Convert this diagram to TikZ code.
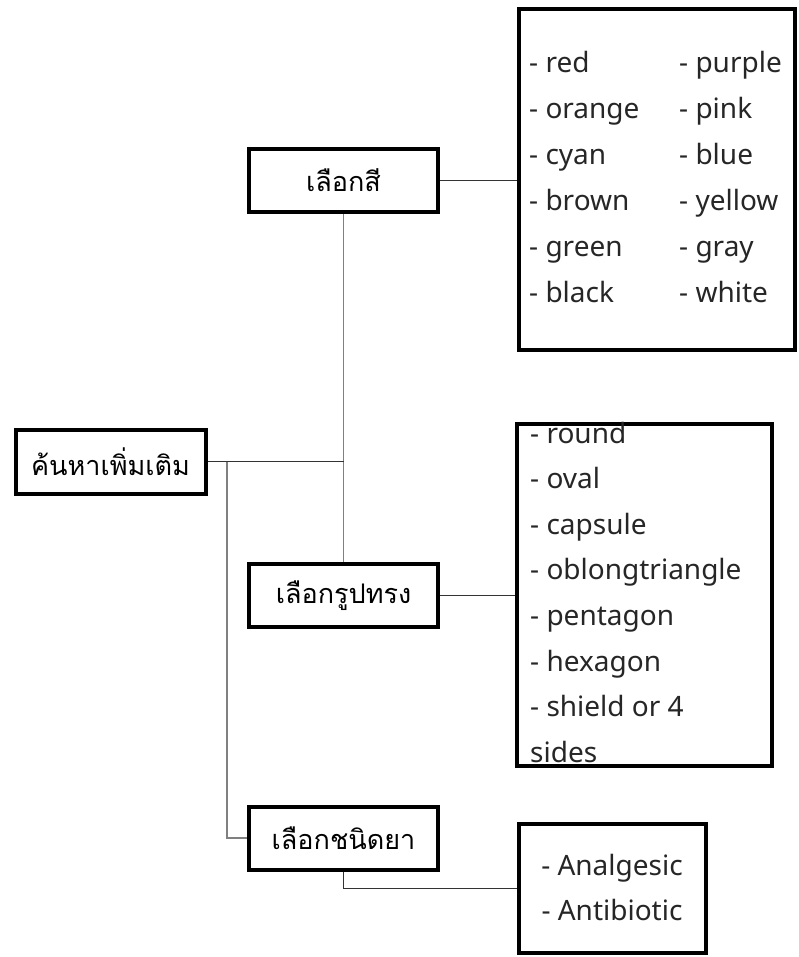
\documentclass[tikz,border=0pt]{standalone}
\usepackage{fontspec}
\setmainfont{Noto Sans}
\newfontfamily\thaifont[Script=Thai]{Loma}
\usetikzlibrary{positioning}

\begin{document}
\begin{tikzpicture}[
  x=1pt, y=-1pt,
  menu/.style={draw, line width=4pt, minimum width=189pt, minimum height=63pt, inner sep=0pt, font=\thaifont\fontsize{27}{31}\selectfont},
  listbox/.style={draw, line width=4pt, inner sep=0pt},
  item/.style={anchor=base west, inner sep=0pt, font=\fontsize{28}{32}\selectfont, text=black!85},
  link/.style={line width=1.4pt, black!80},
  trunk/.style={line width=1.6pt, gray}
]
\useasboundingbox (0,0) rectangle (798,957);

% main menu and the three choices
\node[menu, minimum width=190pt, minimum height=64pt] (search) at (110.5,461.5) {ค้นหาเพิ่มเติม};
\node[menu] (pickcolor) at (343.5,180.5) {เลือกสี};
\node[menu] (pickshape) at (343.5,595.5) {เลือกรูปทรง};
\node[menu] (pickdrug) at (343.5,838) {เลือกชนิดยา};

% option lists
\node[listbox, minimum width=276pt, minimum height=341pt] (colorlist) at (657,179.5) {};
\node[listbox, minimum width=255pt, minimum height=342pt] (shapelist) at (644.5,595) {};
\node[listbox, minimum width=187pt, minimum height=129pt] (druglist) at (612.5,888.5) {};

\foreach \c [count=\i from 0] in {red,orange,cyan,brown,green,black}
  \node[item] (cl\i) at (529,73+45.8*\i) {- \c};
\foreach \c [count=\i from 0] in {purple,pink,blue,yellow,gray,white}
  \node[item] (cr\i) at (679,73+45.8*\i) {- \c};
\foreach \s [count=\i from 0] in {- round,- oval,- capsule,- oblongtriangle,- pentagon,- hexagon,- shield or 4,sides}
  \node[item] (sh\i) at (530,443+45.6*\i) {\s};
\node[item, anchor=base] (dr0) at (612,875) {- Analgesic};
\node[item, anchor=base] (dr1) at (612,920) {- Antibiotic};

% connectors
\coordinate (mid) at (343.5,461.5);
\coordinate (side) at (227,461.5);
\draw[trunk] (pickcolor.south) -- (pickshape.north);
\draw[link] (search.east) -- (mid);
\draw[trunk] (side) |- (pickdrug.west);
\draw[link] (pickcolor.east) -- (pickcolor.east -| colorlist.west);
\draw[link] (pickshape.east) -- (pickshape.east -| shapelist.west);
\draw[link] (pickdrug.south) |- (druglist.west);
\end{tikzpicture}
\end{document}
